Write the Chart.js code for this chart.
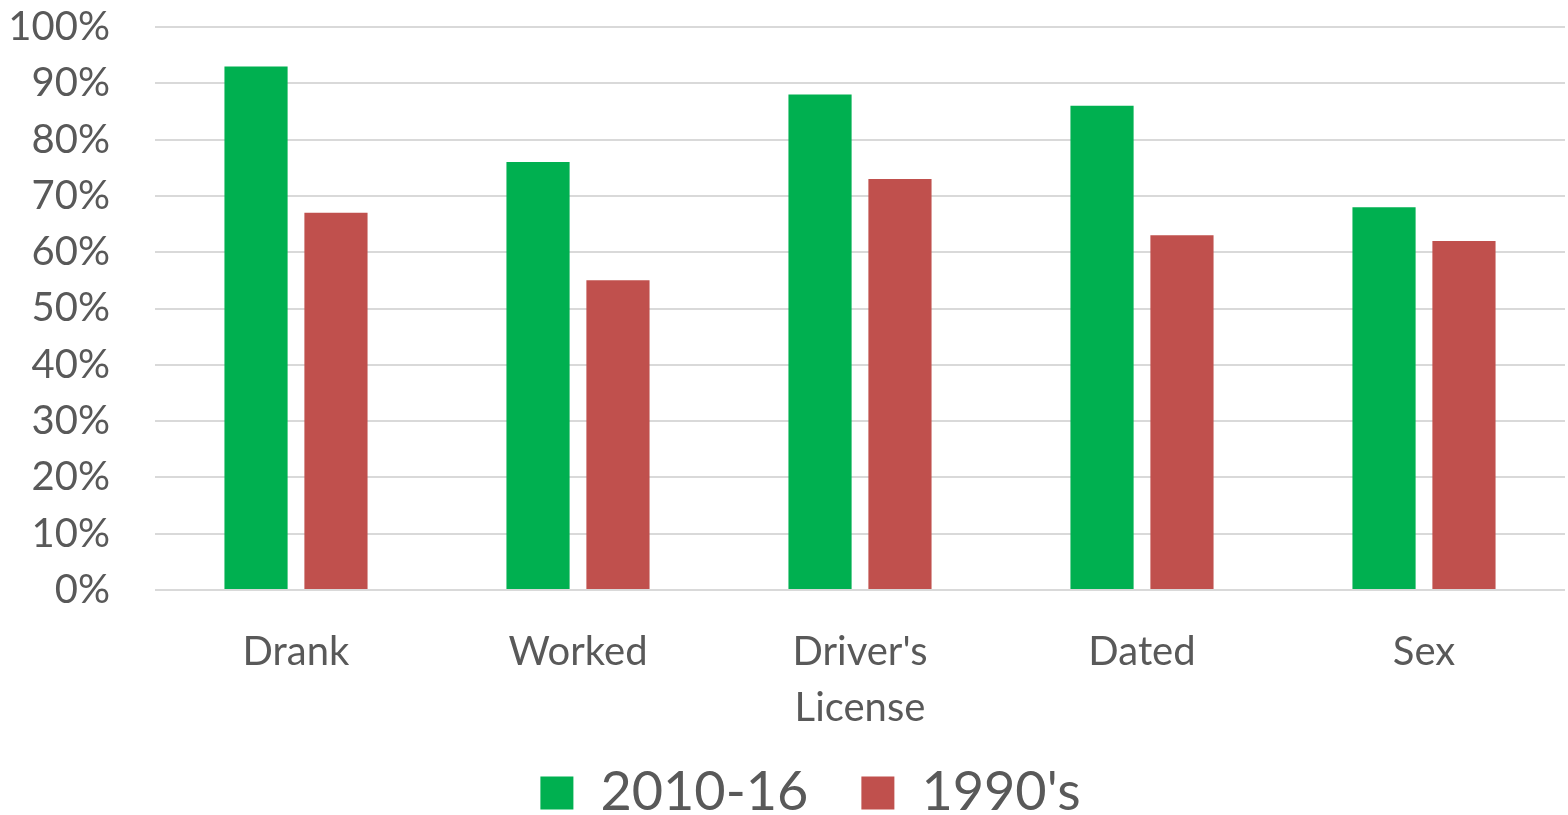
<!DOCTYPE html>
<html>
<head>
<meta charset="utf-8">
<script src="https://cdn.jsdelivr.net/npm/chart.js@4"></script>
<style>
html,body{margin:0;padding:0;background:#fff;}
#wrap{width:1568px;height:815px;position:relative;}
</style>
</head>
<body>
<div id="wrap"><canvas id="c" width="1568" height="815"></canvas></div>
<script>
const categories = [["Drank"], ["Worked"], ["Driver's", "License"], ["Dated"], ["Sex"]];
const seriesNames = ["2010-16", "1990's"];
const values2010 = [93, 76, 88, 86, 68];
const values1990 = [67, 55, 73, 63, 62];
const yTicks = [0, 10, 20, 30, 40, 50, 60, 70, 80, 90, 100];

const textColor = '#595959';
const fontFamily = "Lato, 'Open Sans', sans-serif";

// Fine-tune legend position after layout, and let x labels extend below their box
const layoutTweak = {
  id: 'layoutTweak',
  afterLayout(chart) {
    const lg = chart.legend;
    const dy = 713 - lg.top;
    lg.top += dy;
    lg.bottom += dy;
    lg.left += 28;
    lg.right += 28;
    chart.scales.x.bottom = chart.height;
  }
};

new Chart(document.getElementById('c'), {
  type: 'bar',
  data: {
    labels: categories,
    datasets: [
      { label: seriesNames[0], data: values2010, backgroundColor: '#00b050', borderWidth: 0 },
      { label: seriesNames[1], data: values1990, backgroundColor: '#c0504d', borderWidth: 0 }
    ]
  },
  plugins: [layoutTweak],
  options: {
    responsive: false,
    animation: false,
    devicePixelRatio: 1,
    layout: { padding: { top: 0, right: 3, left: 0, bottom: 0 } },
    datasets: { bar: { categoryPercentage: 0.567, barPercentage: 0.79 } },
    plugins: {
      tooltip: { enabled: false },
      legend: {
        position: 'bottom',
        labels: {
          color: textColor,
          font: { family: fontFamily, size: 54 },
          boxWidth: 33,
          boxHeight: 33,
          padding: 53
        }
      }
    },
    scales: {
      x: {
        grid: { display: false, drawTicks: false },
        border: { display: false },
        ticks: {
          color: textColor,
          font: { family: fontFamily, size: 40, lineHeight: 1.4 },
          padding: 34,
          maxRotation: 0,
          autoSkip: false
        },
        afterFit: (s) => { s.paddingLeft = 0; s.paddingRight = 0; s.height = 108; }
      },
      y: {
        min: 0, max: 100,
        afterBuildTicks: (axis) => { axis.ticks = yTicks.map(v => ({ value: v })); },
        grid: { color: '#d9d9d9', lineWidth: 2, drawTicks: false },
        border: { display: false },
        ticks: {
          color: textColor,
          font: { family: fontFamily, size: 40 },
          padding: 45,
          autoSkip: false,
          callback: v => v + '%'
        },
        afterFit: (s) => { s.width = 155; s.paddingTop = 27; s.paddingBottom = 0; }
      }
    }
  }
});
</script>
</body>
</html>
